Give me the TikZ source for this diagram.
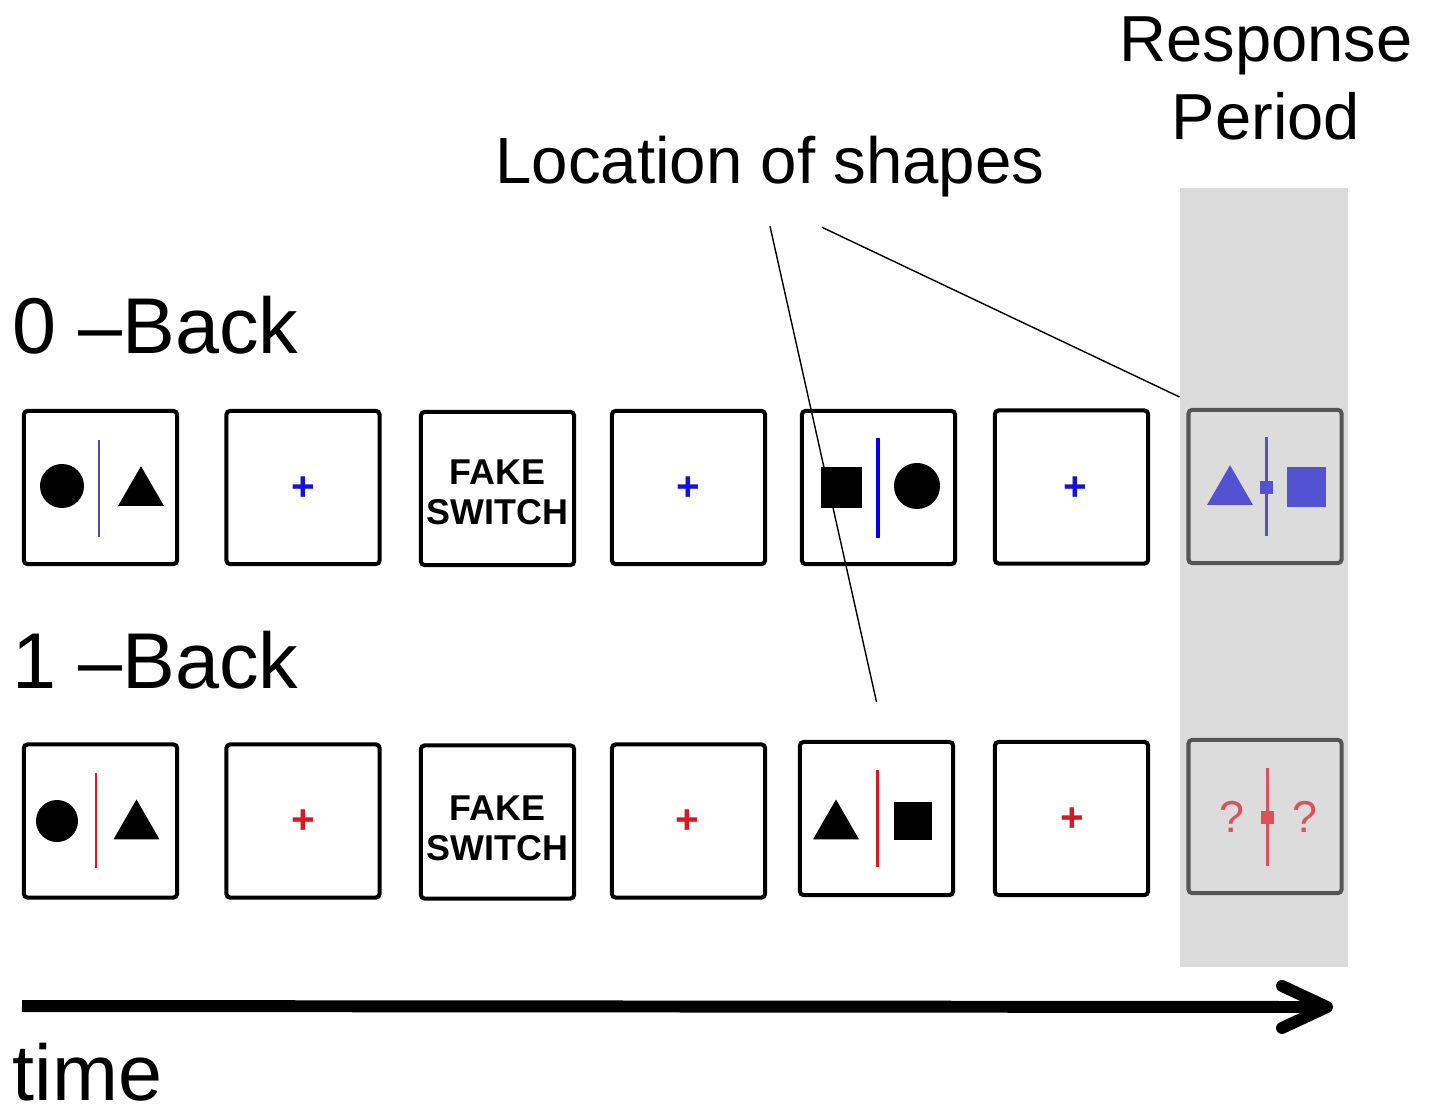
\documentclass[tikz,border=0pt]{standalone}
\usepackage{fontspec}
\setmainfont{Liberation Sans}
\usetikzlibrary{arrows.meta, calc, positioning, shapes.geometric}
\definecolor{bandgray}{RGB}{220,220,220}
\definecolor{framegray}{RGB}{85,85,85}
\definecolor{cueblue}{RGB}{20,20,215}
\definecolor{lineblue}{RGB}{70,80,180}
\definecolor{cuered}{RGB}{215,25,35}
\definecolor{respblue}{RGB}{82,82,210}
\definecolor{respred}{RGB}{220,80,90}

\begin{document}
\begin{tikzpicture}[
    x=0.01cm, y=-0.01cm,   % 1 unit = 1 px of the layout, y runs down
    frame/.style={draw=black, line width=1.15pt, rounded corners=1pt,
                  minimum size=1.53cm, inner sep=0pt, fill=white},
    respframe/.style={frame, draw=framegray, fill=bandgray},
    dot/.style={circle, fill=black, inner sep=0pt, minimum size=0.44cm},
    tri/.style={regular polygon, regular polygon sides=3, fill=black,
                inner sep=0pt, minimum size=0.53cm},
    sq/.style={rectangle, fill=black, inner sep=0pt, minimum size=0.41cm},
    fixcross/.style={font=\fontsize{11.5}{12}\selectfont\bfseries, inner sep=0pt},
    divider/.style={line width=0.85pt},
    fake/.style={align=center, font=\fontsize{10.2}{11.4}\selectfont\bfseries},
    tag/.style={font=\fontsize{22.5}{26}\selectfont, inner sep=0pt, anchor=base west},
    pointer/.style={line width=0.4pt, black},
]

\useasboundingbox (0,0) rectangle (1434,1112);

% ── Response period band ─────────────────────────────────────────────────────
\fill[bandgray] (1180,188) rectangle (1348,967);

% ── Headings ─────────────────────────────────────────────────────────────────
\node[align=center, inner sep=0pt, font=\fontsize{18.5}{22.2}\selectfont]
    (resp) at (1266,78) {Response\\Period};
\node[anchor=base, inner sep=0pt, font=\fontsize{18.6}{22}\selectfont]
    (loc) at (770,183) {Location of shapes};

\node[tag] (zero) at (12,353) {0 \textendash Back};
\node[tag] (one)  at (12,688) {1 \textendash Back};

% ── 0-back row ───────────────────────────────────────────────────────────────
\node[frame] (z1) at (100.5,487.5) {};
\node[frame] (z2) at (303,487.5)   {};
\node[frame] (z3) at (497.5,488.5) {};
\node[frame] (z4) at (688.5,487.5) {};
\node[frame] (z5) at (878.5,487.5) {};
\node[frame] (z6) at (1071.5,487)  {};
\node[respframe] (z7) at (1265,486.5) {};

% frame 1
\node[dot] at (62,486) {};
\draw[divider, lineblue] (99,440) -- (99,537);
\node[tri] at (141,492.7) {};
% fixation crosses and the fake switch
\node[fixcross, text=cueblue] at (303,489)  {+};
\node[fake] (fs0) at (497.5,492.5) {FAKE\\SWITCH};
\node[fixcross, text=cueblue] at (688,489)  {+};
\node[fixcross, text=cueblue] at (1075,489) {+};
% frame 5
\node[sq] at (841,487.5) {};
\draw[line width=1.1pt, blue] (878,438) -- (878,538);
\node[dot, minimum size=0.46cm] at (917,486) {};
% response frame
\node[tri, fill=respblue] at (1230,491.7) {};
\draw[divider, respblue] (1266,437) -- (1266,536);
\node[sq, fill=respblue, minimum size=0.13cm] at (1266,487) {};
\node[sq, fill=respblue, minimum size=0.39cm] at (1306.5,487) {};

% ── 1-back row ───────────────────────────────────────────────────────────────
\node[frame] (o1) at (100.5,821)   {};
\node[frame] (o2) at (303,821)     {};
\node[frame] (o3) at (497.5,822)   {};
\node[frame] (o4) at (688.5,821)   {};
\node[frame] (o5) at (876.5,818.5) {};
\node[frame] (o6) at (1071.5,818.5) {};
\node[respframe] (o7) at (1265,816.5) {};

% frame 1
\node[dot, minimum size=0.42cm] at (57,821) {};
\draw[divider, cuered] (96,773) -- (96,868);
\node[tri] at (136.5,826) {};
% fixation crosses and the fake switch
\node[fixcross, text=cuered] at (303,822)  {+};
\node[fake] (fs1) at (497.5,828) {FAKE\\SWITCH};
\node[fixcross, text=cuered] at (687,822)  {+};
\node[fixcross, text=cuered] at (1072,820) {+};
% frame 5
\node[tri] at (836,826) {};
\draw[divider, cuered] (877,770) -- (877,867);
\node[sq, minimum size=0.38cm] at (913,821) {};
% response frame
\draw[divider, respred] (1267,768) -- (1267,866);
\node[sq, fill=respred, minimum size=0.13cm] at (1267,817) {};
\node[text=respred, font=\fontsize{12.7}{13}\selectfont, inner sep=0pt] at (1232,817) {?};
\node[text=respred, font=\fontsize{12.7}{13}\selectfont, inner sep=0pt] at (1305,817) {?};

% ── Pointers from the heading ────────────────────────────────────────────────
\coordinate (a1) at ($(loc.south)+(0,29)$);
\coordinate (a2) at ($(loc.south)+(52,30)$);
\coordinate (e1) at ($(o5.north)+(0,-38)$);
\coordinate (e2) at ($(z7.north west)+(-7,-11)$);
\draw[pointer] (a1) -- (e1);
\draw[pointer] (a2) -- (e2);

% ── Time axis ────────────────────────────────────────────────────────────────
\coordinate (t0) at (22,1006);
\coordinate (t1) at (1333,1007);
\draw[line width=3.4pt, -{Straight Barb[length=0.45cm, width=0.42cm, round]}]
    (t0) -- (t1);
\node[tag] (time) at (12,1100) {time};

\end{tikzpicture}
\end{document}
